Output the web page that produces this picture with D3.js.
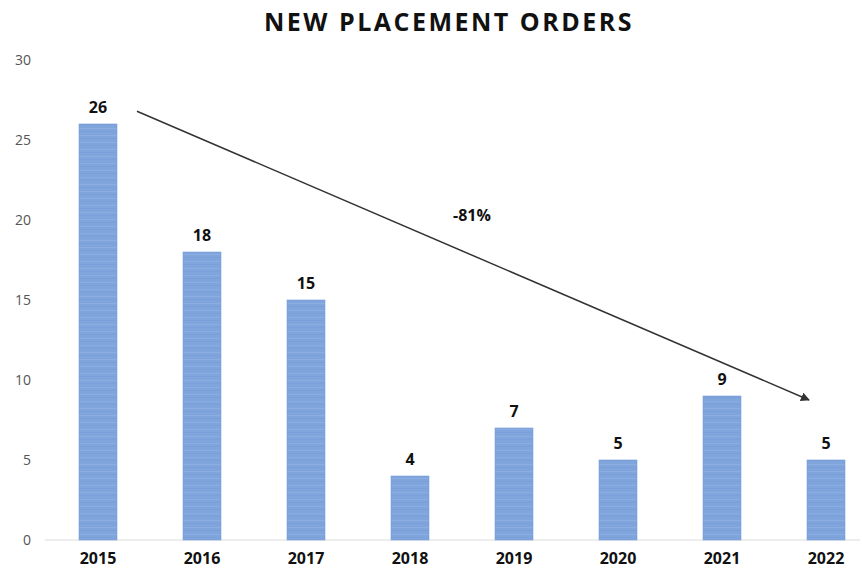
<!DOCTYPE html>
<html><head><meta charset="utf-8">
<script src="https://cdn.jsdelivr.net/npm/d3@7"></script>
<style>body{margin:0;background:#fff}svg{display:block}</style>
</head><body>
<svg id="c" width="863" height="571"></svg>
<script>
const years = ["2015","2016","2017","2018","2019","2020","2021","2022"];
const orders = [26, 18, 15, 4, 7, 5, 9, 5];
const yTicks = [0, 5, 10, 15, 20, 25, 30];
const title = "NEW PLACEMENT ORDERS";
const trendLabel = "-81%";
const trendFrom = 26.8, trendTo = 8.75;

const svg = d3.select("#c");
const x = d3.scaleBand().domain(years).range([46, 878]).paddingInner(0.635).paddingOuter(0.3175);
const y = d3.scaleLinear().domain([0, 30]).range([540, 60]);

const defs = svg.append("defs");
const pat = defs.append("pattern").attr("id","stripes").attr("patternUnits","userSpaceOnUse")
  .attr("width", 40).attr("height", 7);
pat.append("rect").attr("width",40).attr("height",7).attr("fill","#80a4dc");
pat.append("rect").attr("y",2).attr("width",40).attr("height",1).attr("fill","#90b1e3").attr("opacity",0.7);
pat.append("rect").attr("y",5).attr("width",40).attr("height",1).attr("fill","#7599d4").attr("opacity",0.5);

const marker = defs.append("marker").attr("id","ah").attr("viewBox","0 0 10 10")
  .attr("refX",9).attr("refY",5).attr("markerWidth",6).attr("markerHeight",6).attr("orient","auto");
marker.append("path").attr("d","M0,0L10,5L0,10z").attr("fill","#333");

svg.append("text").attr("x", 449).attr("y", 31).attr("text-anchor","middle")
  .attr("font-family","Open Sans").attr("font-weight",700).attr("font-size",25)
  .attr("letter-spacing",2.5).attr("fill","#111").text(title);

// y axis
const yAxis = d3.axisLeft(y).tickValues(yTicks).tickSize(0).tickPadding(0);
const ya = svg.append("g").attr("transform","translate(31,0)").call(yAxis);
ya.select(".domain").remove();
ya.selectAll("text").attr("font-family","Open Sans").attr("font-size",14).attr("fill","#555");

// baseline
svg.append("line").attr("x1",45).attr("x2",860).attr("y1",y(0)).attr("y2",y(0))
  .attr("stroke","#dcdcdc").attr("stroke-width",1);

// bars
svg.append("g").selectAll("rect").data(years).join("rect")
  .attr("x", d => x(d)).attr("width", x.bandwidth())
  .attr("y", (d,i) => y(orders[i])).attr("height", (d,i) => y(0) - y(orders[i]))
  .attr("fill","url(#stripes)").attr("stroke","#769bd6").attr("stroke-width",0.6);

// value labels
svg.append("g").selectAll("text").data(years).join("text")
  .attr("x", d => x(d) + x.bandwidth()/2).attr("y", (d,i) => y(orders[i]) - 11)
  .attr("text-anchor","middle").attr("font-family","Open Sans").attr("font-weight",700)
  .attr("font-size",16).attr("fill","#111").text((d,i) => orders[i]);

// x axis
const xAxis = d3.axisBottom(x).tickSize(0).tickPadding(0);
const xa = svg.append("g").attr("transform",`translate(0,${y(0)+13})`).call(xAxis);
xa.select(".domain").remove();
xa.selectAll("text").attr("font-family","Open Sans").attr("font-weight",700)
  .attr("font-size",16).attr("fill","#111").attr("dy","0.71em");

// trend arrow
svg.append("line")
  .attr("x1", x(years[0]) + x.bandwidth() + 20).attr("y1", y(trendFrom))
  .attr("x2", x(years[years.length-1]) + 2).attr("y2", y(trendTo))
  .attr("stroke","#333").attr("stroke-width",1.5).attr("marker-end","url(#ah)");
svg.append("text").attr("x", 472).attr("y", 221).attr("text-anchor","middle")
  .attr("font-family","Open Sans").attr("font-weight",700).attr("font-size",16)
  .attr("fill","#111").text(trendLabel);
</script>
</body></html>
